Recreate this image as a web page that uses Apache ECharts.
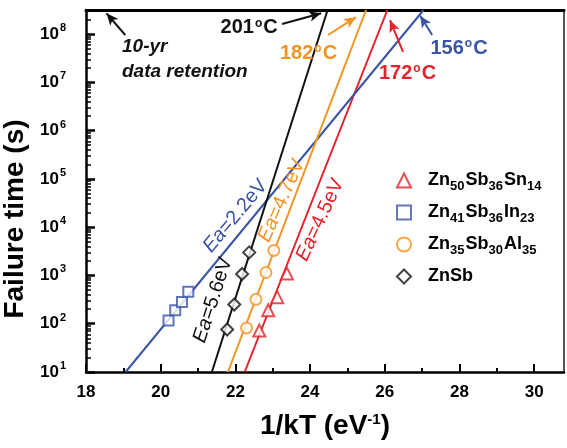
<!DOCTYPE html>
<html><head><meta charset="utf-8">
<script src="https://cdn.jsdelivr.net/npm/echarts@6/dist/echarts.min.js"></script>
<style>html,body{margin:0;padding:0;background:#fff}#c{width:567px;height:448px}</style>
</head><body><div id="c"></div>
<script>
// ---------- data ----------
const xTicks = [18, 20, 22, 24, 26, 28, 30];
const xMinorTicks = [19, 21, 23, 25, 27, 29];
const yExponents = [1, 2, 3, 4, 5, 6, 7, 8];           // decade ticks 10^n (s)
const yMaxSeconds = 3.15e8;                             // 10-yr data retention
const seriesNames = ['Zn50Sb36Sn14', 'Zn41Sb36In23', 'Zn35Sb30Al35', 'ZnSb'];
// measured points: 1/kT (eV^-1) and failure time (s)
const snX = [22.64, 22.88, 23.12, 23.38];
const snT = [72, 190, 355, 1100];
const inX = [20.21, 20.39, 20.57, 20.74];
const inT = [117, 190, 282, 457];
const alX = [22.30, 22.55, 22.82, 23.03];
const alT = [82, 320, 1150, 3300];
const sbX = [21.78, 21.97, 22.18, 22.37];
const sbT = [76, 250, 1070, 3000];
// Arrhenius fit lines: 1/kT at t = 10 s and at 10-yr retention
const fitStartX = [22.25, 19.06, 21.80, 21.37];
const fitEndX = [26.07, 27.04, 25.50, 24.47];
const fitT = [10, yMaxSeconds];
const eaLabels = ['Ea=4.5eV', 'Ea=2.2eV', 'Ea=4.7eV', 'Ea=5.6eV'];
const tempLabels = ['172', '156', '182', '201'];

// ---------- style ----------
const FONT = '"Liberation Sans", Arial, sans-serif';
const colors = ['#e3222b', '#3a54a6', '#f39322', '#111111'];
const symbols = ['emptyTriangle', 'emptyRect', 'emptyCircle', 'emptyDiamond'];
const symSizes = [12, 10, 11, 12];
const lg = v => Math.log10(v);
const ptsOf = (xs, ts) => xs.map((x, i) => [x, lg(ts[i])]);
const pointSets = [ptsOf(snX, snT), ptsOf(inX, inT), ptsOf(alX, alT), ptsOf(sbX, sbT)];

// annotation positions (data coords: 1/kT, log10 t)
const eaPos = [[24.27, 4.15, 65], [22.0, 4.23, 50], [23.24, 4.55, 66], [21.40, 2.49, 72]];
const tempText = [[26.61, 7.18], [27.99, 7.70], [23.96, 7.60], [22.37, 8.13]];
const tempArrow = [[[26.49, 7.63], [26.14, 8.29]], [[27.27, 7.98], [26.95, 8.38]], [[24.48, 7.98], [25.23, 8.35]], [[23.25, 8.21], [24.30, 8.43]]];

const series = [];
seriesNames.forEach((name, i) => {
  series.push({
    name: name, type: 'scatter', data: pointSets[i], symbol: symbols[i], symbolSize: symSizes[i],
    itemStyle: { color: colors[i], borderColor: colors[i], borderWidth: 2.5 }, z: 5
  });
  const fit = {
    name: name + ' fit', type: 'line', showSymbol: false, symbol: 'none', silent: true,
    data: [[fitStartX[i], lg(fitT[0])], [fitEndX[i], lg(fitT[1])]],
    lineStyle: { color: colors[i], width: 2 }, itemStyle: { color: colors[i] }, z: 3,
    markPoint: {
      symbol: 'circle', symbolSize: 0, silent: true,
      data: [
        { coord: [eaPos[i][0], eaPos[i][1]],
          label: { show: true, position: 'inside', rotate: eaPos[i][2], formatter: '{i|Ea}' + eaLabels[i].slice(2),
                   color: colors[i], fontSize: 20, fontFamily: FONT,
                   rich: { i: { fontStyle: 'italic', fontSize: 20, color: colors[i], fontFamily: FONT } } } },
        { coord: tempText[i],
          label: { show: true, position: 'inside', formatter: tempLabels[i] + '{o|o}C',
                   color: colors[i], fontSize: 20, fontWeight: 'bold', fontFamily: FONT,
                   rich: { o: { fontSize: 12, fontWeight: 'bold', color: colors[i], fontFamily: FONT, padding: [0, 1, 9, 1] } } } }
      ]
    },
    markLine: {
      silent: true, symbol: ['none', 'arrow'], symbolSize: 10,
      lineStyle: { color: colors[i], width: 2, type: 'solid' }, label: { show: false },
      data: [[{ coord: tempArrow[i][0], symbol: 'none' }, { coord: tempArrow[i][1], symbol: 'arrow', symbolSize: [8, 12] }]]
    }
  };
  if (i === 3) {
    fit.markPoint.data.push(
      { coord: [18.83, 7.47], label: { show: true, position: 'right', formatter: '10-yr\ndata retention', lineHeight: 25,
        color: '#111', fontSize: 19, fontWeight: 'bold', fontStyle: 'italic', fontFamily: FONT } });
    fit.markLine.data.push([{ coord: [19.05, 7.98], symbol: 'none' }, { coord: [18.55, 8.43], symbol: 'arrow', symbolSize: [8, 12] }]);
  }
  series.push(fit);
});

const axisTxt = { color: '#000', fontFamily: FONT, fontWeight: 'bold' };
const option = {
  animation: false,
  backgroundColor: '#fff',
  grid: { left: 86, top: 10, width: 478, height: 362, containLabel: false, outerBoundsMode: 'none' },
  legend: {
    data: seriesNames, orient: 'vertical', left: 391, top: 164, itemGap: 8, itemWidth: 14, itemHeight: 14,
    selectedMode: false,
    itemStyle: { borderWidth: 2.6 },
    formatter: n => n.replace(/(\d+)/g, '{s|$1}'),
    textStyle: { fontSize: 18, fontWeight: 'bold', fontFamily: FONT, color: '#000', lineHeight: 23, padding: [0, 0, 0, 12],
      rich: { s: { fontSize: 13, fontWeight: 'bold', fontFamily: FONT, color: '#000', padding: [12, 1, 0, 0] } } }
  },
  xAxis: [
    { type: 'value', min: 18, max: 30.8, position: 'bottom',
      axisLine: { lineStyle: { color: '#000', width: 2.5 } },
      axisTick: { inside: true, length: 8, lineStyle: { color: '#000', width: 2 }, customValues: xTicks },
      axisLabel: Object.assign({ customValues: xTicks, margin: 12, fontSize: 17 }, axisTxt),
      splitLine: { show: false },
      name: '1/kT (eV{s|-1})', nameLocation: 'middle', nameGap: 40,
      nameTextStyle: Object.assign({ fontSize: 28, rich: { s: Object.assign({ fontSize: 15, padding: [0, 0, 14, 0] }, axisTxt) } }, axisTxt) },
    { type: 'value', min: 18, max: 30.8, position: 'bottom',
      axisLine: { show: false },
      axisTick: { inside: true, length: 4, lineStyle: { color: '#000', width: 2 }, customValues: xMinorTicks },
      axisLabel: { show: false }, splitLine: { show: false } },
    { type: 'value', min: 18, max: 30.8, position: 'top',
      axisLine: { lineStyle: { color: '#000', width: 3 } }, axisTick: { show: false },
      axisLabel: { show: false }, splitLine: { show: false } }
  ],
  yAxis: [
    { type: 'value', min: 1, max: lg(yMaxSeconds), position: 'left',
      axisLine: { lineStyle: { color: '#000', width: 2.5 } },
      axisTick: { inside: true, length: 9, lineStyle: { color: '#000', width: 2.5 }, customValues: yExponents },
      axisLabel: Object.assign({ customValues: yExponents, margin: 20, fontSize: 17,
        formatter: v => '10{p|' + Math.round(v) + '}',
        rich: { p: Object.assign({ fontSize: 11, padding: [0, 0, 12, 1] }, axisTxt) } }, axisTxt),
      splitLine: { show: false },
      name: 'Failure time (s)', nameLocation: 'middle', nameGap: 52,
      nameTextStyle: Object.assign({ fontSize: 28, padding: [0, 56, 0, 0] }, axisTxt) },
    { type: 'value', min: 1, max: lg(yMaxSeconds), position: 'left',
      axisLine: { show: false },
      axisTick: { inside: true, length: 5, lineStyle: { color: '#000', width: 1.5 },
        customValues: yExponents.flatMap(e => [2, 3, 4, 5, 6, 7, 8, 9].map(k => e + lg(k))).filter(v => v < lg(yMaxSeconds)) },
      axisLabel: { show: false }, splitLine: { show: false } },
    { type: 'value', min: 1, max: lg(yMaxSeconds), position: 'right',
      axisLine: { lineStyle: { color: '#555', width: 2 } }, axisTick: { show: false },
      axisLabel: { show: false }, splitLine: { show: false } }
  ],
  series: series
};
const chart = echarts.init(document.getElementById('c'));
chart.setOption(option);
</script>
</body></html>
